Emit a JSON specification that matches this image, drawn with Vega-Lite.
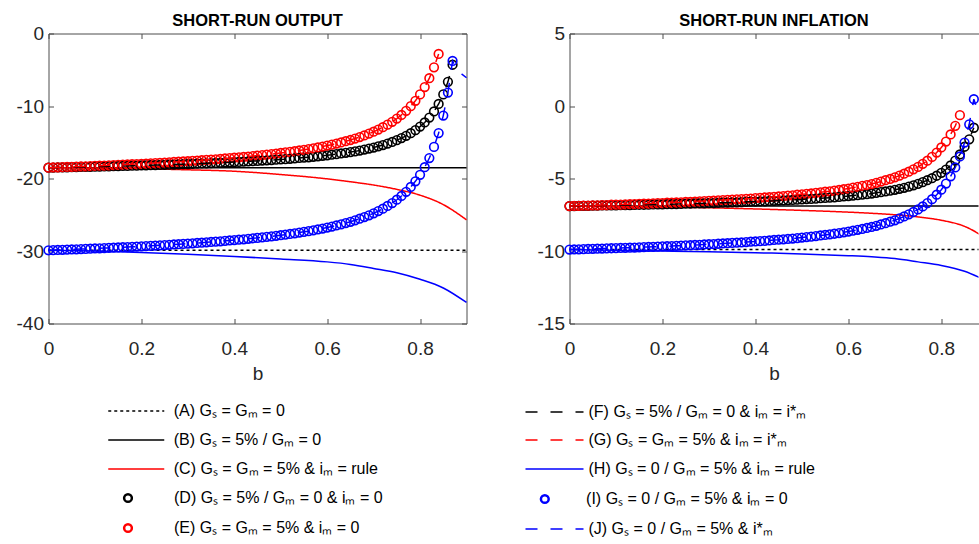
{
"$schema": "https://vega.github.io/schema/vega-lite/v6.json",
"background": "white",
"padding": {"left": 15.5, "top": 12.5, "right": 0, "bottom": 0},
"spacing": 55,
"config": {
  "font": "Liberation Sans",
  "view": {"stroke": null},
  "axis": {"labelFont": "Liberation Sans", "labelFontSize": 19, "labelColor": "#262626", "titleFont": "Liberation Sans", "titleFontSize": 19, "titleFontWeight": "normal", "titleColor": "#262626", "domainColor": "#4d4d4d", "tickColor": "#4d4d4d", "tickSize": -5, "grid": false, "labelFlush": false, "labelOverlap": false},
  "title": {"font": "Liberation Sans", "fontSize": 16.5, "fontWeight": "bold", "color": "#000000", "anchor": "middle", "offset": -5},
  "legend": {"labelFont": "Liberation Sans", "labelFontSize": 16, "labelColor": "#000000", "labelLimit": 600, "padding": 0, "clipHeight": 16, "title": null}
},
"datasets": {
  "lines": [
    {"b":0,"oA":-29.9,"oB":-18.5,"oC":-18.5,"oH":-29.9,"iA":-9.9,"iB":-6.9,"iC":-6.9,"iH":-9.9},
    {"b":0.1,"oA":-29.9,"oB":-18.5,"oC":-18.55,"oH":-30.0,"iA":-9.9,"iB":-6.9,"iC":-6.92,"iH":-9.95},
    {"b":0.2,"oA":-29.9,"oB":-18.5,"oC":-18.65,"oH":-30.2,"iA":-9.9,"iB":-6.9,"iC":-6.96,"iH":-10.0},
    {"b":0.3,"oA":-29.9,"oB":-18.5,"oC":-18.8,"oH":-30.45,"iA":-9.9,"iB":-6.9,"iC":-7.02,"iH":-10.05},
    {"b":0.4,"oA":-29.9,"oB":-18.5,"oC":-19.0,"oH":-30.75,"iA":-9.9,"iB":-6.9,"iC":-7.1,"iH":-10.12},
    {"b":0.5,"oA":-29.9,"oB":-18.5,"oC":-19.45,"oH":-31.1,"iA":-9.9,"iB":-6.9,"iC":-7.2,"iH":-10.2},
    {"b":0.6,"oA":-29.9,"oB":-18.5,"oC":-20.05,"oH":-31.5,"iA":-9.9,"iB":-6.9,"iC":-7.32,"iH":-10.32},
    {"b":0.65,"oA":-29.9,"oB":-18.5,"oC":-20.45,"oH":-31.85,"iA":-9.9,"iB":-6.9,"iC":-7.4,"iH":-10.4},
    {"b":0.7,"oA":-29.9,"oB":-18.5,"oC":-20.9,"oH":-32.4,"iA":-9.9,"iB":-6.9,"iC":-7.5,"iH":-10.52},
    {"b":0.75,"oA":-29.9,"oB":-18.5,"oC":-21.5,"oH":-33.0,"iA":-9.9,"iB":-6.9,"iC":-7.65,"iH":-10.75},
    {"b":0.8,"oA":-29.9,"oB":-18.5,"oC":-22.3,"oH":-33.9,"iA":-9.9,"iB":-6.9,"iC":-7.88,"iH":-11.0},
    {"b":0.85,"oA":-29.9,"oB":-18.5,"oC":-23.6,"oH":-35.1,"iA":-9.9,"iB":-6.9,"iC":-8.3,"iH":-11.4},
    {"b":0.9,"oA":-29.9,"oB":-18.5,"oC":-25.7,"oH":-37.1,"iA":-9.9,"iB":-6.9,"iC":-9.2,"iH":-12.1}
  ],
  "circ": [
    {"b":0,"oD":-18.5,"oE":-18.5,"oI":-29.9,"iD":-6.9,"iE":-6.9,"iI":-9.9},
    {"b":0.01,"oD":-18.49,"oE":-18.48,"oI":-29.88,"iD":-6.9,"iE":-6.89,"iI":-9.89},
    {"b":0.02,"oD":-18.47,"oE":-18.45,"oI":-29.85,"iD":-6.89,"iE":-6.88,"iI":-9.88},
    {"b":0.03,"oD":-18.46,"oE":-18.43,"oI":-29.83,"iD":-6.88,"iE":-6.87,"iI":-9.87},
    {"b":0.04,"oD":-18.45,"oE":-18.41,"oI":-29.81,"iD":-6.88,"iE":-6.87,"iI":-9.86},
    {"b":0.05,"oD":-18.43,"oE":-18.38,"oI":-29.78,"iD":-6.87,"iE":-6.85,"iI":-9.85},
    {"b":0.06,"oD":-18.42,"oE":-18.36,"oI":-29.76,"iD":-6.87,"iE":-6.85,"iI":-9.84},
    {"b":0.07,"oD":-18.41,"oE":-18.34,"oI":-29.73,"iD":-6.86,"iE":-6.83,"iI":-9.83},
    {"b":0.08,"oD":-18.4,"oE":-18.32,"oI":-29.71,"iD":-6.86,"iE":-6.83,"iI":-9.82},
    {"b":0.09,"oD":-18.38,"oE":-18.29,"oI":-29.68,"iD":-6.85,"iE":-6.81,"iI":-9.81},
    {"b":0.1,"oD":-18.36,"oE":-18.26,"oI":-29.65,"iD":-6.85,"iE":-6.8,"iI":-9.8},
    {"b":0.11,"oD":-18.35,"oE":-18.24,"oI":-29.63,"iD":-6.84,"iE":-6.8,"iI":-9.79},
    {"b":0.12,"oD":-18.34,"oE":-18.21,"oI":-29.6,"iD":-6.83,"iE":-6.78,"iI":-9.78},
    {"b":0.13,"oD":-18.32,"oE":-18.18,"oI":-29.57,"iD":-6.83,"iE":-6.77,"iI":-9.77},
    {"b":0.14,"oD":-18.3,"oE":-18.15,"oI":-29.54,"iD":-6.82,"iE":-6.76,"iI":-9.76},
    {"b":0.15,"oD":-18.29,"oE":-18.12,"oI":-29.51,"iD":-6.81,"iE":-6.75,"iI":-9.75},
    {"b":0.16,"oD":-18.27,"oE":-18.09,"oI":-29.48,"iD":-6.81,"iE":-6.74,"iI":-9.73},
    {"b":0.17,"oD":-18.26,"oE":-18.06,"oI":-29.45,"iD":-6.8,"iE":-6.73,"iI":-9.72},
    {"b":0.18,"oD":-18.24,"oE":-18.03,"oI":-29.42,"iD":-6.79,"iE":-6.71,"iI":-9.71},
    {"b":0.19,"oD":-18.22,"oE":-18.01,"oI":-29.39,"iD":-6.79,"iE":-6.7,"iI":-9.7},
    {"b":0.2,"oD":-18.2,"oE":-17.97,"oI":-29.35,"iD":-6.78,"iE":-6.69,"iI":-9.68},
    {"b":0.21,"oD":-18.18,"oE":-17.94,"oI":-29.32,"iD":-6.77,"iE":-6.67,"iI":-9.67},
    {"b":0.22,"oD":-18.17,"oE":-17.91,"oI":-29.29,"iD":-6.77,"iE":-6.66,"iI":-9.66},
    {"b":0.23,"oD":-18.15,"oE":-17.87,"oI":-29.25,"iD":-6.76,"iE":-6.65,"iI":-9.64},
    {"b":0.24,"oD":-18.13,"oE":-17.84,"oI":-29.22,"iD":-6.75,"iE":-6.64,"iI":-9.63},
    {"b":0.25,"oD":-18.11,"oE":-17.8,"oI":-29.18,"iD":-6.74,"iE":-6.62,"iI":-9.61},
    {"b":0.26,"oD":-18.09,"oE":-17.76,"oI":-29.14,"iD":-6.73,"iE":-6.61,"iI":-9.6},
    {"b":0.27,"oD":-18.07,"oE":-17.72,"oI":-29.1,"iD":-6.72,"iE":-6.59,"iI":-9.58},
    {"b":0.28,"oD":-18.04,"oE":-17.69,"oI":-29.06,"iD":-6.72,"iE":-6.57,"iI":-9.57},
    {"b":0.29,"oD":-18.02,"oE":-17.65,"oI":-29.02,"iD":-6.71,"iE":-6.56,"iI":-9.55},
    {"b":0.3,"oD":-18.0,"oE":-17.61,"oI":-28.98,"iD":-6.7,"iE":-6.54,"iI":-9.53},
    {"b":0.31,"oD":-17.98,"oE":-17.57,"oI":-28.94,"iD":-6.69,"iE":-6.53,"iI":-9.52},
    {"b":0.32,"oD":-17.95,"oE":-17.52,"oI":-28.89,"iD":-6.68,"iE":-6.51,"iI":-9.5},
    {"b":0.33,"oD":-17.93,"oE":-17.48,"oI":-28.85,"iD":-6.67,"iE":-6.49,"iI":-9.48},
    {"b":0.34,"oD":-17.9,"oE":-17.43,"oI":-28.8,"iD":-6.66,"iE":-6.47,"iI":-9.46},
    {"b":0.35,"oD":-17.87,"oE":-17.38,"oI":-28.75,"iD":-6.65,"iE":-6.45,"iI":-9.44},
    {"b":0.36,"oD":-17.85,"oE":-17.35,"oI":-28.71,"iD":-6.64,"iE":-6.44,"iI":-9.43},
    {"b":0.37,"oD":-17.83,"oE":-17.3,"oI":-28.66,"iD":-6.63,"iE":-6.42,"iI":-9.41},
    {"b":0.38,"oD":-17.79,"oE":-17.24,"oI":-28.6,"iD":-6.61,"iE":-6.4,"iI":-9.38},
    {"b":0.39,"oD":-17.77,"oE":-17.19,"oI":-28.55,"iD":-6.6,"iE":-6.38,"iI":-9.36},
    {"b":0.4,"oD":-17.73,"oE":-17.13,"oI":-28.49,"iD":-6.59,"iE":-6.35,"iI":-9.34},
    {"b":0.41,"oD":-17.71,"oE":-17.08,"oI":-28.44,"iD":-6.58,"iE":-6.33,"iI":-9.32},
    {"b":0.42,"oD":-17.67,"oE":-17.03,"oI":-28.38,"iD":-6.57,"iE":-6.31,"iI":-9.3},
    {"b":0.43,"oD":-17.64,"oE":-16.97,"oI":-28.32,"iD":-6.55,"iE":-6.29,"iI":-9.27},
    {"b":0.44,"oD":-17.6,"oE":-16.9,"oI":-28.25,"iD":-6.54,"iE":-6.26,"iI":-9.24},
    {"b":0.45,"oD":-17.57,"oE":-16.84,"oI":-28.19,"iD":-6.52,"iE":-6.24,"iI":-9.22},
    {"b":0.46,"oD":-17.53,"oE":-16.77,"oI":-28.12,"iD":-6.51,"iE":-6.21,"iI":-9.19},
    {"b":0.47,"oD":-17.49,"oE":-16.71,"oI":-28.05,"iD":-6.49,"iE":-6.18,"iI":-9.17},
    {"b":0.48,"oD":-17.46,"oE":-16.64,"oI":-27.98,"iD":-6.48,"iE":-6.16,"iI":-9.14},
    {"b":0.49,"oD":-17.41,"oE":-16.56,"oI":-27.9,"iD":-6.46,"iE":-6.12,"iI":-9.11},
    {"b":0.5,"oD":-17.37,"oE":-16.48,"oI":-27.82,"iD":-6.44,"iE":-6.09,"iI":-9.07},
    {"b":0.51,"oD":-17.33,"oE":-16.4,"oI":-27.74,"iD":-6.42,"iE":-6.06,"iI":-9.04},
    {"b":0.52,"oD":-17.28,"oE":-16.32,"oI":-27.65,"iD":-6.41,"iE":-6.03,"iI":-9.01},
    {"b":0.53,"oD":-17.23,"oE":-16.23,"oI":-27.56,"iD":-6.39,"iE":-5.99,"iI":-8.97},
    {"b":0.54,"oD":-17.17,"oE":-16.13,"oI":-27.46,"iD":-6.36,"iE":-5.95,"iI":-8.93},
    {"b":0.55,"oD":-17.12,"oE":-16.04,"oI":-27.36,"iD":-6.34,"iE":-5.91,"iI":-8.89},
    {"b":0.56,"oD":-17.07,"oE":-15.94,"oI":-27.26,"iD":-6.32,"iE":-5.88,"iI":-8.85},
    {"b":0.57,"oD":-17.01,"oE":-15.83,"oI":-27.15,"iD":-6.3,"iE":-5.83,"iI":-8.81},
    {"b":0.58,"oD":-16.94,"oE":-15.72,"oI":-27.03,"iD":-6.27,"iE":-5.79,"iI":-8.76},
    {"b":0.59,"oD":-16.87,"oE":-15.59,"oI":-26.9,"iD":-6.24,"iE":-5.74,"iI":-8.71},
    {"b":0.6,"oD":-16.8,"oE":-15.46,"oI":-26.77,"iD":-6.21,"iE":-5.69,"iI":-8.66},
    {"b":0.61,"oD":-16.72,"oE":-15.33,"oI":-26.63,"iD":-6.18,"iE":-5.63,"iI":-8.6},
    {"b":0.62,"oD":-16.64,"oE":-15.18,"oI":-26.48,"iD":-6.15,"iE":-5.57,"iI":-8.54},
    {"b":0.63,"oD":-16.55,"oE":-15.03,"oI":-26.32,"iD":-6.11,"iE":-5.51,"iI":-8.48},
    {"b":0.64,"oD":-16.46,"oE":-14.86,"oI":-26.15,"iD":-6.08,"iE":-5.45,"iI":-8.41},
    {"b":0.65,"oD":-16.36,"oE":-14.69,"oI":-25.97,"iD":-6.04,"iE":-5.38,"iI":-8.34},
    {"b":0.66,"oD":-16.26,"oE":-14.49,"oI":-25.77,"iD":-5.99,"iE":-5.3,"iI":-8.26},
    {"b":0.67,"oD":-16.14,"oE":-14.28,"oI":-25.55,"iD":-5.94,"iE":-5.21,"iI":-8.17},
    {"b":0.68,"oD":-16.01,"oE":-14.06,"oI":-25.32,"iD":-5.89,"iE":-5.12,"iI":-8.08},
    {"b":0.69,"oD":-15.87,"oE":-13.81,"oI":-25.07,"iD":-5.84,"iE":-5.03,"iI":-7.98},
    {"b":0.7,"oD":-15.73,"oE":-13.55,"oI":-24.8,"iD":-5.78,"iE":-4.92,"iI":-7.88},
    {"b":0.71,"oD":-15.56,"oE":-13.25,"oI":-24.49,"iD":-5.71,"iE":-4.8,"iI":-7.75},
    {"b":0.72,"oD":-15.38,"oE":-12.93,"oI":-24.16,"iD":-5.64,"iE":-4.67,"iI":-7.62},
    {"b":0.73,"oD":-15.18,"oE":-12.57,"oI":-23.79,"iD":-5.56,"iE":-4.53,"iI":-7.47},
    {"b":0.74,"oD":-14.96,"oE":-12.18,"oI":-23.38,"iD":-5.47,"iE":-4.37,"iI":-7.31},
    {"b":0.75,"oD":-14.71,"oE":-11.74,"oI":-22.93,"iD":-5.37,"iE":-4.2,"iI":-7.13},
    {"b":0.76,"oD":-14.43,"oE":-11.23,"oI":-22.41,"iD":-5.25,"iE":-3.99,"iI":-6.93},
    {"b":0.77,"oD":-14.11,"oE":-10.67,"oI":-21.83,"iD":-5.12,"iE":-3.77,"iI":-6.7},
    {"b":0.78,"oD":-13.75,"oE":-10.02,"oI":-21.16,"iD":-4.98,"iE":-3.51,"iI":-6.43},
    {"b":0.79,"oD":-13.33,"oE":-9.28,"oI":-20.39,"iD":-4.81,"iE":-3.21,"iI":-6.12},
    {"b":0.8,"oD":-12.84,"oE":-8.4,"oI":-19.49,"iD":-4.61,"iE":-2.86,"iI":-5.77},
    {"b":0.81,"oD":-12.27,"oE":-7.38,"oI":-18.44,"iD":-4.38,"iE":-2.45,"iI":-5.35},
    {"b":0.82,"oD":-11.59,"oE":-6.16,"oI":-17.18,"iD":-4.1,"iE":-1.96,"iI":-4.85},
    {"b":0.83,"oD":-10.75,"oE":-4.67,"oI":-15.64,"iD":-3.76,"iE":-1.37,"iI":-4.24},
    {"b":0.84,"oD":-9.72,"oE":-2.82,"oI":-13.74,"iD":-3.34,"iE":-0.63,"iI":-3.48},
    {"b":0.85,"oD":-8.4,"oI":-11.32,"iD":-2.81,"iI":-2.52},
    {"b":0.86,"oD":-6.67,"oI":-8.14,"iD":-2.3,"iI":-1.26},
    {"b":0.87,"oD":-4.31,"oI":-3.79,"iD":-1.5,"iI":0.47},
    {"b":0.88,"oI":-5.0,"iI":-0.5},
    {"b":0.89,"oI":-5.6,"iI":-1.0},
    {"b":0.9,"oI":-6.1,"iI":-1.4}
  ]
},
"resolve": {"scale": {"color": "independent", "strokeDash": "independent"}},
"hconcat": [
  {
    "title": {"text": "SHORT-RUN OUTPUT"},
    "width": 418, "height": 290,
    "resolve": {"scale": {"color": "independent", "strokeDash": "independent"}, "axis": {"x": "independent", "y": "independent"}},
    "layer": [
      {
        "data": {"name": "lines"},
        "transform": [{"fold": ["oA", "oB", "oC"], "as": ["s", "y"]}],
        "mark": {"type": "line", "strokeWidth": 1.5, "interpolate": "monotone"},
        "encoding": {
          "x": {"field": "b", "type": "quantitative", "scale": {"domain": [0, 0.9], "nice": false, "zero": false}, "axis": {"values": [0, 0.2, 0.4, 0.6, 0.8], "format": "~g", "title": "b", "labelPadding": 21, "titlePadding": 6}},
          "y": {"field": "y", "type": "quantitative", "scale": {"domain": [-40, 0], "nice": false, "zero": false}, "axis": {"values": [-40, -30, -20, -10, 0], "labelExpr": "'' + datum.value", "title": null, "labelPadding": 10}},
          "color": {"field": "s", "type": "nominal", "scale": {"domain": ["oA", "oB", "oC"], "range": ["#000000", "#000000", "#ff0000"]},
            "legend": {"orient": "none", "legendX": 58.75, "legendY": 369.5, "symbolType": "stroke", "symbolSize": 3136, "symbolStrokeWidth": 1.5, "labelOffset": 8.5, "rowPadding": 13, "labelExpr": "datum.value == 'oA' ? '(A) Gₛ = Gₘ = 0' : datum.value == 'oB' ? '(B) Gₛ = 5% / Gₘ = 0' : '(C) Gₛ = Gₘ = 5% & iₘ = rule'"}},
          "strokeDash": {"field": "s", "type": "nominal", "scale": {"domain": ["oA", "oB", "oC"], "range": [[3, 3], [1, 0], [1, 0]]},
            "legend": {"orient": "none", "legendX": 58.75, "legendY": 369.5, "symbolType": "stroke", "symbolSize": 3136, "symbolStrokeWidth": 1.5, "labelOffset": 8.5, "rowPadding": 13, "labelExpr": "datum.value == 'oA' ? '(A) Gₛ = Gₘ = 0' : datum.value == 'oB' ? '(B) Gₛ = 5% / Gₘ = 0' : '(C) Gₛ = Gₘ = 5% & iₘ = rule'"}}
        }
      },
      {
        "data": {"name": "circ"},
        "transform": [{"fold": ["oD", "oE"], "as": ["s", "y"]}, {"filter": "isValid(datum.y) && datum.b <= 0.875"}],
        "mark": {"type": "point", "shape": "circle", "filled": false, "size": 75, "strokeWidth": 1.6, "opacity": 1},
        "encoding": {
          "x": {"field": "b", "type": "quantitative", "scale": {"domain": [0, 0.9], "nice": false, "zero": false}, "axis": {"orient": "top", "values": [0, 0.2, 0.4, 0.6, 0.8], "labels": false, "title": null}},
          "y": {"field": "y", "type": "quantitative", "scale": {"domain": [-40, 0], "nice": false, "zero": false}, "axis": {"orient": "right", "values": [-40, -30, -20, -10, 0], "labels": false, "title": null}},
          "color": {"field": "s", "type": "nominal", "scale": {"domain": ["oD", "oE"], "range": ["#000000", "#ff0000"]},
            "legend": {"orient": "none", "legendX": 71.5, "legendY": 456.5, "symbolType": "circle", "symbolSize": 60, "symbolStrokeWidth": 2.5, "labelOffset": 38, "rowPadding": 14, "labelExpr": "datum.value == 'oD' ? '(D) Gₛ = 5% / Gₘ = 0 & iₘ = 0' : '(E) Gₛ = Gₘ = 5% & iₘ = 0'"}}
        }
      },
      {
        "data": {"name": "circ"},
        "transform": [{"fold": ["oD", "oE"], "as": ["s", "y"]}, {"filter": "isValid(datum.y)"}],
        "mark": {"type": "line", "strokeWidth": 1.5},
        "encoding": {
          "x": {"field": "b", "type": "quantitative", "scale": {"domain": [0, 0.9], "nice": false, "zero": false}, "axis": null},
          "y": {"field": "y", "type": "quantitative", "scale": {"domain": [-40, 0], "nice": false, "zero": false}, "axis": null},
          "color": {"field": "s", "type": "nominal", "scale": {"domain": ["oD", "oE"], "range": ["#000000", "#ff0000"]}, "legend": null},
          "strokeDash": {"field": "s", "type": "nominal", "scale": {"domain": ["oD", "oE"], "range": [[12, 13], [12, 13]]}, "legend": null}
        }
      },
      {
        "data": {"name": "lines"},
        "transform": [{"fold": ["oH"], "as": ["s", "y"]}],
        "mark": {"type": "line", "strokeWidth": 1.5, "interpolate": "monotone"},
        "encoding": {
          "x": {"field": "b", "type": "quantitative", "scale": {"domain": [0, 0.9], "nice": false, "zero": false}, "axis": null},
          "y": {"field": "y", "type": "quantitative", "scale": {"domain": [-40, 0], "nice": false, "zero": false}, "axis": null},
          "color": {"field": "s", "type": "nominal", "scale": {"domain": ["oH"], "range": ["#0000ff"]}, "legend": null}
        }
      },
      {
        "data": {"name": "circ"},
        "transform": [{"fold": ["oI"], "as": ["s", "y"]}, {"filter": "isValid(datum.y) && datum.b <= 0.875"}],
        "mark": {"type": "point", "shape": "circle", "filled": false, "size": 75, "strokeWidth": 1.6, "opacity": 1},
        "encoding": {
          "x": {"field": "b", "type": "quantitative", "scale": {"domain": [0, 0.9], "nice": false, "zero": false}, "axis": null},
          "y": {"field": "y", "type": "quantitative", "scale": {"domain": [-40, 0], "nice": false, "zero": false}, "axis": null},
          "color": {"field": "s", "type": "nominal", "scale": {"domain": ["oI"], "range": ["#0000ff"]}, "legend": null}
        }
      },
      {
        "data": {"name": "circ"},
        "transform": [{"fold": ["oI"], "as": ["s", "y"]}, {"filter": "isValid(datum.y)"}],
        "mark": {"type": "line", "strokeWidth": 1.5},
        "encoding": {
          "x": {"field": "b", "type": "quantitative", "scale": {"domain": [0, 0.9], "nice": false, "zero": false}, "axis": null},
          "y": {"field": "y", "type": "quantitative", "scale": {"domain": [-40, 0], "nice": false, "zero": false}, "axis": null},
          "color": {"field": "s", "type": "nominal", "scale": {"domain": ["oI"], "range": ["#0000ff"]}, "legend": null},
          "strokeDash": {"field": "s", "type": "nominal", "scale": {"domain": ["oI"], "range": [[12, 13]]}, "legend": null}
        }
      }
    ]
  },
  {
    "title": {"text": "SHORT-RUN INFLATION"},
    "width": 409, "height": 290,
    "resolve": {"scale": {"color": "independent", "strokeDash": "independent"}, "axis": {"x": "independent", "y": "independent"}},
    "layer": [
      {
        "data": {"name": "lines"},
        "transform": [{"fold": ["iA", "iB", "iC"], "as": ["s", "y"]}],
        "mark": {"type": "line", "strokeWidth": 1.5, "interpolate": "monotone", "clip": true},
        "encoding": {
          "x": {"field": "b", "type": "quantitative", "scale": {"domain": [0, 0.88], "nice": false, "zero": false}, "axis": {"values": [0, 0.2, 0.4, 0.6, 0.8], "format": "~g", "title": "b", "labelPadding": 21, "titlePadding": 6}},
          "y": {"field": "y", "type": "quantitative", "scale": {"domain": [-15, 5], "nice": false, "zero": false}, "axis": {"values": [-15, -10, -5, 0, 5], "labelExpr": "'' + datum.value", "title": null, "labelPadding": 10}},
          "color": {"field": "s", "type": "nominal", "scale": {"domain": ["iA", "iB", "iC"], "range": ["#000000", "#000000", "#ff0000"]}, "legend": null},
          "strokeDash": {"field": "s", "type": "nominal", "scale": {"domain": ["iA", "iB", "iC"], "range": [[3, 3], [1, 0], [1, 0]]}, "legend": null}
        }
      },
      {
        "data": {"name": "circ"},
        "transform": [{"fold": ["iD", "iE"], "as": ["s", "y"]}, {"filter": "isValid(datum.y) && datum.b <= 0.875"}],
        "mark": {"type": "point", "shape": "circle", "filled": false, "size": 75, "strokeWidth": 1.6, "opacity": 1},
        "encoding": {
          "x": {"field": "b", "type": "quantitative", "scale": {"domain": [0, 0.88], "nice": false, "zero": false}, "axis": {"orient": "top", "values": [0, 0.2, 0.4, 0.6, 0.8], "labels": false, "title": null}},
          "y": {"field": "y", "type": "quantitative", "scale": {"domain": [-15, 5], "nice": false, "zero": false}, "axis": null},
          "color": {"field": "s", "type": "nominal", "scale": {"domain": ["iD", "iE"], "range": ["#000000", "#ff0000"]}, "legend": null}
        }
      },
      {
        "data": {"name": "circ"},
        "transform": [{"fold": ["iD", "iE"], "as": ["s", "y"]}, {"filter": "isValid(datum.y)"}],
        "mark": {"type": "line", "strokeWidth": 1.5, "clip": true},
        "encoding": {
          "x": {"field": "b", "type": "quantitative", "scale": {"domain": [0, 0.88], "nice": false, "zero": false}, "axis": null},
          "y": {"field": "y", "type": "quantitative", "scale": {"domain": [-15, 5], "nice": false, "zero": false}, "axis": null},
          "color": {"field": "s", "type": "nominal", "scale": {"domain": ["iD", "iE"], "range": ["#000000", "#ff0000"]},
            "legend": {"orient": "none", "legendX": -45, "legendY": 370.5, "symbolType": "stroke", "symbolSize": 3364, "symbolStrokeWidth": 1.5, "labelOffset": 4, "rowPadding": 12, "labelExpr": "datum.value == 'iD' ? '(F) Gₛ = 5% / Gₘ = 0 & iₘ = i*ₘ' : '(G) Gₛ = Gₘ = 5% & iₘ = i*ₘ'"}},
          "strokeDash": {"field": "s", "type": "nominal", "scale": {"domain": ["iD", "iE"], "range": [[12, 13], [12, 13]]},
            "legend": {"orient": "none", "legendX": -45, "legendY": 370.5, "symbolType": "stroke", "symbolSize": 3364, "symbolStrokeWidth": 1.5, "labelOffset": 4, "rowPadding": 12, "labelExpr": "datum.value == 'iD' ? '(F) Gₛ = 5% / Gₘ = 0 & iₘ = i*ₘ' : '(G) Gₛ = Gₘ = 5% & iₘ = i*ₘ'"}}
        }
      },
      {
        "data": {"name": "lines"},
        "transform": [{"fold": ["iH"], "as": ["s", "y"]}],
        "mark": {"type": "line", "strokeWidth": 1.5, "interpolate": "monotone", "clip": true},
        "encoding": {
          "x": {"field": "b", "type": "quantitative", "scale": {"domain": [0, 0.88], "nice": false, "zero": false}, "axis": null},
          "y": {"field": "y", "type": "quantitative", "scale": {"domain": [-15, 5], "nice": false, "zero": false}, "axis": null},
          "color": {"field": "s", "type": "nominal", "scale": {"domain": ["iH"], "range": ["#0000ff"]},
            "legend": {"orient": "none", "legendX": -45, "legendY": 427.5, "symbolType": "stroke", "symbolSize": 3364, "symbolStrokeWidth": 1.5, "labelOffset": 4, "labelExpr": "'(H) Gₛ = 0 / Gₘ = 5% & iₘ = rule'"}}
        }
      },
      {
        "data": {"name": "circ"},
        "transform": [{"fold": ["iI"], "as": ["s", "y"]}, {"filter": "isValid(datum.y) && datum.b <= 0.875"}],
        "mark": {"type": "point", "shape": "circle", "filled": false, "size": 75, "strokeWidth": 1.6, "opacity": 1},
        "encoding": {
          "x": {"field": "b", "type": "quantitative", "scale": {"domain": [0, 0.88], "nice": false, "zero": false}, "axis": null},
          "y": {"field": "y", "type": "quantitative", "scale": {"domain": [-15, 5], "nice": false, "zero": false}, "axis": null},
          "color": {"field": "s", "type": "nominal", "scale": {"domain": ["iI"], "range": ["#0000ff"]},
            "legend": {"orient": "none", "legendX": -32.7, "legendY": 457.5, "symbolType": "circle", "symbolSize": 60, "symbolStrokeWidth": 2.5, "labelOffset": 33.3, "labelExpr": "'(I) Gₛ = 0 / Gₘ = 5% & iₘ = 0'"}}
        }
      },
      {
        "data": {"name": "circ"},
        "transform": [{"fold": ["iI"], "as": ["s", "y"]}, {"filter": "isValid(datum.y)"}],
        "mark": {"type": "line", "strokeWidth": 1.5, "clip": true},
        "encoding": {
          "x": {"field": "b", "type": "quantitative", "scale": {"domain": [0, 0.88], "nice": false, "zero": false}, "axis": null},
          "y": {"field": "y", "type": "quantitative", "scale": {"domain": [-15, 5], "nice": false, "zero": false}, "axis": null},
          "color": {"field": "s", "type": "nominal", "scale": {"domain": ["iI"], "range": ["#0000ff"]},
            "legend": {"orient": "none", "legendX": -45, "legendY": 487.5, "symbolType": "stroke", "symbolSize": 3364, "symbolStrokeWidth": 1.5, "labelOffset": 4, "labelExpr": "'(J) Gₛ = 0 / Gₘ = 5% & i*ₘ'"}},
          "strokeDash": {"field": "s", "type": "nominal", "scale": {"domain": ["iI"], "range": [[12, 13]]},
            "legend": {"orient": "none", "legendX": -45, "legendY": 487.5, "symbolType": "stroke", "symbolSize": 3364, "symbolStrokeWidth": 1.5, "labelOffset": 4, "labelExpr": "'(J) Gₛ = 0 / Gₘ = 5% & i*ₘ'"}}
        }
      }
    ]
  }
]
}
